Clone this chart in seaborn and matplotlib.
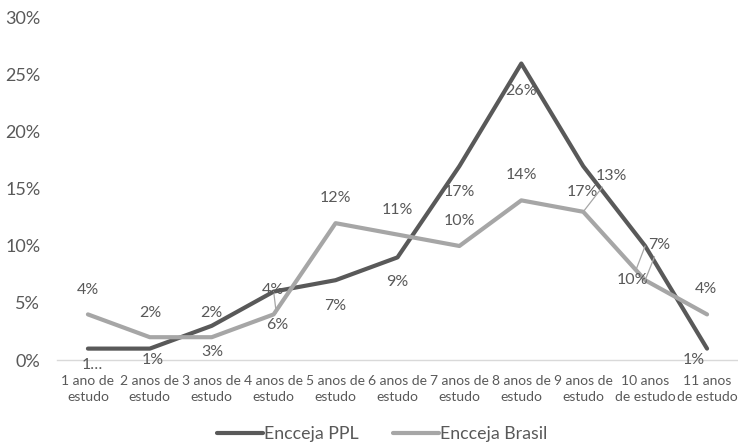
import matplotlib
matplotlib.use("Agg")
import matplotlib.pyplot as plt
import pandas as pd
import seaborn as sns

# Distribution of candidates by years of schooling
categories = [
    "1 ano de\nestudo", "2 anos de\nestudo", "3 anos de\nestudo", "4 anos de\nestudo",
    "5 anos de\nestudo", "6 anos de\nestudo", "7 anos de\nestudo", "8 anos de\nestudo",
    "9 anos de\nestudo", "10 anos\nde estudo", "11 anos\nde estudo",
]
series_names = ["Encceja PPL", "Encceja Brasil"]
ppl = [1, 1, 3, 6, 7, 9, 17, 26, 17, 10, 1]
brasil = [4, 2, 2, 4, 12, 11, 10, 14, 13, 7, 4]
y_ticks = [0, 5, 10, 15, 20, 25, 30]

TEXT = "#595959"
colors = {"Encceja PPL": "#595959", "Encceja Brasil": "#A6A6A6"}

sns.set_theme(style="white")
plt.rcParams["font.family"] = ["Lato", "DejaVu Sans"]

df = pd.DataFrame({
    "pos": list(range(len(categories))) * 2,
    "valor": ppl + brasil,
    "serie": [series_names[0]] * len(ppl) + [series_names[1]] * len(brasil),
})

fig = plt.figure(figsize=(7.38, 4.48), dpi=100)
ax = fig.add_axes([0.0772, 0.1964, 0.9228, 0.7636])

sns.lineplot(data=df, x="pos", y="valor", hue="serie", hue_order=series_names,
             palette=colors, linewidth=3.0, sort=False, legend=False, ax=ax,
             solid_joinstyle="round", solid_capstyle="round")

ax.set_xlim(-0.5, len(categories) - 0.5)
ax.set_ylim(0, 30)
ax.set_yticks(y_ticks)
ax.set_yticklabels([f"{t}%" for t in y_ticks], fontsize=13, color=TEXT)
ax.set_xticks(range(len(categories)))
ax.set_xticklabels(categories, fontsize=10, color=TEXT, linespacing=1.35)
ax.tick_params(axis="both", length=0)
ax.tick_params(axis="y", pad=12)
ax.tick_params(axis="x", pad=11)
ax.set_xlabel("")
ax.set_ylabel("")
for side in ["top", "right", "left"]:
    ax.spines[side].set_visible(False)
ax.spines["bottom"].set_color("#D9D9D9")
ax.spines["bottom"].set_linewidth(1.0)
ax.spines["bottom"].set_zorder(0)

# Data labels: PPL below its points, Brasil above (pixel offsets; leader where moved)
ppl_labels = [f"{v}%" for v in ppl]
ppl_labels[0] = ppl_labels[0][:1] + "\u2026"
brasil_labels = [f"{v}%" for v in brasil]

ppl_offsets = [(4, -16), (3, -11), (1, -26), (4, -33), (0, -26), (0, -25),
               (0, -26), (0, -27), (-1, -26), (-13, -34), (-13, -11)]
ppl_leader = [False, False, False, True, False, False, False, False, False, True, False]
brasil_offsets = [(0, 24), (0, 24), (0, 24), (-1, 24), (0, 25), (0, 25),
                  (0, 25), (0, 25), (28, 36), (14, 35), (-1, 25)]
brasil_leader = [False] * 8 + [True, True, False]

def put_labels(values, labels, offsets, leaders):
    for i, (v, lab, off, lead) in enumerate(zip(values, labels, offsets, leaders)):
        kw = {}
        if lead:
            kw["arrowprops"] = dict(arrowstyle="-", color="#A6A6A6", lw=0.9,
                                    shrinkA=1, shrinkB=0)
        ax.annotate(lab, xy=(i, v), xytext=off, textcoords="offset pixels",
                    ha="center", va="center", fontsize=11.5, color=TEXT,
                    annotation_clip=False, **kw)

put_labels(ppl, ppl_labels, ppl_offsets, ppl_leader)
put_labels(brasil, brasil_labels, brasil_offsets, brasil_leader)

handles = [plt.Line2D([], [], color=colors[n], lw=3.0, solid_capstyle="round")
           for n in series_names]
leg = fig.legend(handles, series_names, loc="center", ncol=2,
                 bbox_to_anchor=(382 / 738, 1 - 434 / 448), frameon=False,
                 fontsize=12.8, handlelength=2.6, handletextpad=0.05,
                 columnspacing=1.9)
for t in leg.get_texts():
    t.set_color(TEXT)

fig.savefig("out.png", dpi=100)
